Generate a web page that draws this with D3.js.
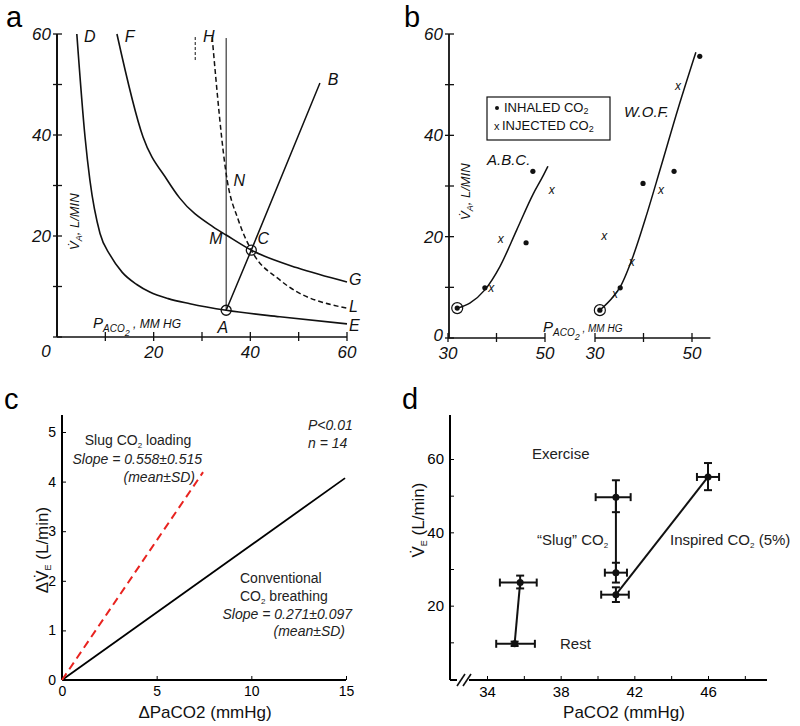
<!DOCTYPE html>
<html>
<head>
<meta charset="utf-8">
<script src="https://cdn.jsdelivr.net/npm/d3@7"></script>
<style>
  body { margin: 0; background: #fff; }
  svg text { font-family: "Liberation Sans", Arial, sans-serif; }
  .hand { font-family: "DejaVu Sans", sans-serif; font-style: italic; }
</style>
</head>
<body>
<svg id="fig" width="800" height="726"></svg>
<script>
// ---------- panel a data (PACO2 mmHg, VA L/min) ----------
const curveDE = [[4.1,60],[5.8,39.6],[6.8,31.1],[8.9,20.5],[11,16.2],[13.5,12.8],[16.5,10.4],[19.2,8.9],[23,7.6],[27.5,6.6],[35,5.3],[46.1,4.0],[60,2.6]];
const curveFG = [[12.4,60],[17.8,39.6],[22.8,31.1],[25.4,27.5],[32.3,21.8],[35,20.2],[40.2,17.2],[49.7,13.7],[60,10.9]];
const curveHL = [[32.1,59.4],[35.2,31.1],[37.5,23.2],[40.2,17.2],[46.1,11.3],[60,5.7]];
const lineAB = [[35,5.3],[40.2,17.2],[54.4,50.3]];
const lineAN = [[35,5.3],[35,59.2]];
const tickH = [[28.6,59.4],[28.6,54.6]];
const circlesA = [[35,5.3],[40.2,17.2]];
const aLetters = [
  {t:"D", x:5.6, y:58.5}, {t:"F", x:14, y:58.5}, {t:"H", x:30.2, y:58.5},
  {t:"B", x:56, y:50}, {t:"N", x:36.5, y:30}, {t:"M", x:31.5, y:18.4},
  {t:"C", x:41.5, y:18.4}, {t:"G", x:60.4, y:10.2}, {t:"L", x:60.4, y:4.9},
  {t:"E", x:60.4, y:1.1}, {t:"A", x:33.2, y:0.8}
];
const aTicksY = [0,10,20,30,40,50,60];
const aLabelsY = [20,40,60];
const aTicksX = [10,20,30,40,50,60];
const aLabelsX = [20,40,60];

// ---------- panel b data ----------
const abcInhaled = [[37.6,9.9],[46.1,18.8],[47.5,32.9]];
const abcInjected = [[38.9,9.9],[40.9,19.6],[51.4,29.3]];
const abcRest = [31.9,5.9];
const abcCurve = [[31.9,5.9],[34.5,6.9],[37.6,9.5],[40.7,14.1],[44.2,21.4],[47.5,28.3],[49.6,32.0],[50.6,33.9]];
const wofInhaled = [[35.2,9.9],[39.9,30.5],[46.3,32.9],[51.6,55.6]];
const wofInjected = [[34.1,8.7],[31.9,20.2],[37.6,15.0],[43.6,29.3],[47.1,49.7]];
const wofRest = [31.0,5.5];
const wofCurve = [[31.0,5.5],[33.7,8.1],[35.2,10.1],[37.8,16.0],[40.7,24.5],[43.5,33.5],[47.2,45.5],[50.8,56.4]];
const bTicksY = [0,10,20,30,40,50,60];
const bLabelsY = [0,20,40,60];
const bTicksX = [30,40,50];

// ---------- panel c data ----------
const slugLine = [[0,0],[7.45,4.19]];
const convLine = [[0,0],[14.95,4.07]];
const cTicksX = [0,5,10,15];
const cTicksY = [0,1,2,3,4,5];

// ---------- panel d data ----------
// [PaCO2, VE, xLow, xHigh, yLow, yHigh]
const restPts = [[35.5,9.6,34.5,36.6,9.0,10.2],[35.8,26.3,34.7,36.7,24.7,28.2]];
const slugPts = [[41.0,29.0,40.4,41.6,26.3,31.7],[41.0,49.6,39.9,41.8,45.5,54.2]];
const inspPts = [[41.0,23.0,40.2,41.7,21.0,25.0],[46.0,55.1,45.4,46.6,51.5,58.9]];
const dTicksX = [34,36,38,40,42,44,46,48];
const dLabelsX = [34,38,42,46];
const dTicksY = [10,20,30,40,50,60];
const dLabelsY = [20,40,60];

const svg = d3.select("#fig");
svg.append("rect").attr("width",800).attr("height",726).attr("fill","#fff");

// panel letters
[["a",6,27],["b",404,27],["c",4,409],["d",402,409]].forEach(p => {
  svg.append("text").attr("x",p[1]).attr("y",p[2]).attr("font-size",29).text(p[0]);
});

function crossTicks(g, pts, horiz) {
  pts.forEach(p => {
    if (horiz) g.append("line").attr("x1",p[0]).attr("x2",p[0]).attr("y1",p[1]-5).attr("y2",p[1]+4);
    else g.append("line").attr("x1",p[0]-4).attr("x2",p[0]+5).attr("y1",p[1]).attr("y2",p[1]);
  });
}

// ================= Panel a =================
{
  const x = d3.scaleLinear().domain([0,60]).range([57,347]);
  const y = d3.scaleLinear().domain([0,60]).range([337,34]);
  const g = svg.append("g").attr("stroke","#111").attr("fill","none");
  g.append("line").attr("x1",x(0)).attr("x2",x(0)).attr("y1",y(0)).attr("y2",y(60)).attr("stroke-width",2);
  g.append("line").attr("x1",x(0)).attr("x2",x(60)).attr("y1",y(0)).attr("y2",y(0)).attr("stroke-width",1.6);
  const tg = g.append("g").attr("stroke-width",1.3);
  crossTicks(tg, aTicksY.map(v => [x(0), y(v)]), false);
  crossTicks(tg, aTicksX.map(v => [x(v), y(0)]), true);
  const line = d3.line().x(d => x(d[0])).y(d => y(d[1])).curve(d3.curveMonotoneX);
  g.append("path").attr("d", line(curveDE)).attr("stroke-width",1.6);
  g.append("path").attr("d", line(curveFG)).attr("stroke-width",1.6);
  g.append("path").attr("d", line(curveHL)).attr("stroke-width",1.5).attr("stroke-dasharray","5,3");
  g.append("path").attr("d", d3.line().x(d => x(d[0])).y(d => y(d[1]))(tickH)).attr("stroke-width",1).attr("stroke-dasharray","3,2");
  g.append("path").attr("d", d3.line().x(d => x(d[0])).y(d => y(d[1]))(lineAB)).attr("stroke-width",1.5);
  g.append("path").attr("d", d3.line().x(d => x(d[0])).y(d => y(d[1]))(lineAN)).attr("stroke-width",1);
  circlesA.forEach(c => g.append("circle").attr("cx",x(c[0])).attr("cy",y(c[1])).attr("r",5).attr("stroke-width",1.3).attr("fill","none"));
  const tt = svg.append("g").attr("class","hand").attr("fill","#111");
  aLabelsY.forEach(v => tt.append("text").attr("x",x(0)-6).attr("y",y(v)+6).attr("text-anchor","end").attr("font-size",17).text(v));
  tt.append("text").attr("x",46).attr("y",357).attr("text-anchor","middle").attr("font-size",17).text("0");
  aLabelsX.forEach(v => tt.append("text").attr("x",x(v)).attr("y",358).attr("text-anchor","middle").attr("font-size",17).text(v));
  aLetters.forEach(l => tt.append("text").attr("x",x(l.x)).attr("y",y(l.y)).attr("font-size",16).text(l.t));
  const yl = tt.append("text").attr("transform","translate(79,250) rotate(-90)").attr("font-size",13);
  yl.append("tspan").text("V̇");
  yl.append("tspan").attr("font-size",9).attr("dy",3).text("A");
  yl.append("tspan").attr("dy",-3).text(",  L/MIN");
  const xl = tt.append("text").attr("x",93).attr("y",328).attr("font-size",15);
  xl.append("tspan").text("P");
  xl.append("tspan").attr("font-size",10).attr("dy",4).text("ACO");
  xl.append("tspan").attr("font-size",9).attr("dy",4).text("2");
  xl.append("tspan").attr("dy",-8).attr("font-size",12).text(" ,  MM HG");
}

// ================= Panel b =================
{
  const y = d3.scaleLinear().domain([0,60]).range([338,34]);
  const x1 = d3.scaleLinear().domain([30,50]).range([448,545]);
  const x2 = d3.scaleLinear().domain([30,50]).range([595,692]);
  const g = svg.append("g").attr("stroke","#111").attr("fill","none");
  g.append("line").attr("x1",449).attr("x2",449).attr("y1",y(0)).attr("y2",y(60)).attr("stroke-width",1.8);
  g.append("line").attr("x1",x1(30)).attr("x2",x1(50)).attr("y1",y(0)).attr("y2",y(0)).attr("stroke-width",1.6);
  g.append("line").attr("x1",x2(30)).attr("x2",x2(53.8)).attr("y1",y(0)).attr("y2",y(0)).attr("stroke-width",1.6);
  const tg = g.append("g").attr("stroke-width",1.3);
  crossTicks(tg, bTicksY.map(v => [449, y(v)]), false);
  crossTicks(tg, bTicksX.map(v => [x1(v), y(0)]), true);
  crossTicks(tg, bTicksX.map(v => [x2(v), y(0)]), true);
  const mk = (xs, data) => d3.line().x(d => xs(d[0])).y(d => y(d[1])).curve(d3.curveMonotoneX)(data);
  g.append("path").attr("d", mk(x1, abcCurve)).attr("stroke-width",1.5);
  g.append("path").attr("d", mk(x2, wofCurve)).attr("stroke-width",1.5);
  const dots = svg.append("g").attr("fill","#111");
  abcInhaled.forEach(d => dots.append("circle").attr("cx",x1(d[0])).attr("cy",y(d[1])).attr("r",2.6));
  wofInhaled.forEach(d => dots.append("circle").attr("cx",x2(d[0])).attr("cy",y(d[1])).attr("r",2.6));
  [[x1,abcRest],[x2,wofRest]].forEach(([xs,d]) => {
    dots.append("circle").attr("cx",xs(d[0])).attr("cy",y(d[1])).attr("r",2.6);
    g.append("circle").attr("cx",xs(d[0])).attr("cy",y(d[1])).attr("r",5.5).attr("stroke-width",1.2);
  });
  const tt = svg.append("g").attr("class","hand").attr("fill","#111");
  abcInjected.forEach(d => tt.append("text").attr("x",x1(d[0])).attr("y",y(d[1])+4).attr("text-anchor","middle").attr("font-size",12).text("x"));
  wofInjected.forEach(d => tt.append("text").attr("x",x2(d[0])).attr("y",y(d[1])+4).attr("text-anchor","middle").attr("font-size",12).text("x"));
  bLabelsY.forEach(v => tt.append("text").attr("x",443).attr("y",y(v) + (v === 0 ? 3 : 6)).attr("text-anchor","end").attr("font-size",17).text(v));
  bTicksX.filter(v => v !== 40).forEach(v => {
    tt.append("text").attr("x",x1(v)).attr("y",359).attr("text-anchor","middle").attr("font-size",17).text(v);
    tt.append("text").attr("x",x2(v)).attr("y",359).attr("text-anchor","middle").attr("font-size",17).text(v);
  });
  tt.append("text").attr("x",487).attr("y",165).attr("font-size",15).text("A.B.C.");
  tt.append("text").attr("x",624).attr("y",117).attr("font-size",15).text("W.O.F.");
  const yl = tt.append("text").attr("transform","translate(470,220) rotate(-90)").attr("font-size",13);
  yl.append("tspan").text("V̇");
  yl.append("tspan").attr("font-size",9).attr("dy",3).text("A");
  yl.append("tspan").attr("dy",-3).text(",  L/MIN");
  const xl = tt.append("text").attr("x",543).attr("y",332).attr("font-size",15);
  xl.append("tspan").text("P");
  xl.append("tspan").attr("font-size",10).attr("dy",4).text("ACO");
  xl.append("tspan").attr("font-size",9).attr("dy",4).text("2");
  xl.append("tspan").attr("dy",-8).attr("font-size",10).text(" , MM HG");
  // legend
  svg.append("rect").attr("x",487).attr("y",97).attr("width",123).attr("height",43).attr("fill","none").attr("stroke","#111").attr("stroke-width",1.2);
  const lg = svg.append("g").attr("fill","#111").attr("font-size",13);
  lg.append("circle").attr("cx",497).attr("cy",108).attr("r",2);
  const l1 = lg.append("text").attr("x",504).attr("y",112);
  l1.append("tspan").text("INHALED    CO");
  l1.append("tspan").attr("font-size",9).attr("dy",2).text("2");
  lg.append("text").attr("x",494).attr("y",130).attr("font-size",11).text("x");
  const l2 = lg.append("text").attr("x",502).attr("y",130);
  l2.append("tspan").text("INJECTED CO");
  l2.append("tspan").attr("font-size",9).attr("dy",2).text("2");
}

// ================= Panel c =================
{
  const x = d3.scaleLinear().domain([0,15]).range([62,346]);
  const y = d3.scaleLinear().domain([0,5]).range([680,432]);
  const g = svg.append("g");
  g.append("g").attr("transform","translate(0,680)")
    .call(d3.axisBottom(x).tickValues(cTicksX).tickSize(-4).tickPadding(6).tickFormat(d3.format("d")))
    .call(a => a.select(".domain").attr("stroke-width",2).attr("d","M62,0H346"))
    .call(a => a.selectAll("text").attr("font-size",14).attr("font-family","Liberation Sans, Arial"));
  g.append("g").attr("transform","translate(62,0)")
    .call(d3.axisLeft(y).tickValues(cTicksY).tickSize(-4).tickPadding(6).tickFormat(d3.format("d")))
    .call(a => a.select(".domain").attr("stroke-width",2).attr("d","M0,680V415"))
    .call(a => a.selectAll("text").attr("font-size",14).attr("font-family","Liberation Sans, Arial"));
  const ln = d3.line().x(d => x(d[0])).y(d => y(d[1]));
  g.append("path").attr("d",ln(convLine)).attr("stroke","#000").attr("stroke-width",1.8).attr("fill","none");
  g.append("path").attr("d",ln(slugLine)).attr("stroke","#e8231f").attr("stroke-width",2).attr("stroke-dasharray","8,5").attr("fill","none");
  const t = g.append("g").attr("fill","#222").attr("font-size",14);
  const s1 = t.append("text").attr("x",138).attr("y",445).attr("text-anchor","middle");
  s1.append("tspan").text("Slug CO");
  s1.append("tspan").attr("font-size",8).attr("dy",3).text("2");
  s1.append("tspan").attr("dy",-3).text(" loading");
  t.append("text").attr("x",202).attr("y",464).attr("text-anchor","end").attr("font-style","italic").text("Slope = 0.558\u00b10.515");
  t.append("text").attr("x",195).attr("y",482).attr("text-anchor","end").attr("font-style","italic").text("(mean\u00b1SD)");
  t.append("text").attr("x",308).attr("y",430).attr("font-style","italic").text("P<0.01");
  t.append("text").attr("x",308).attr("y",448).attr("font-style","italic").text("n = 14");
  t.append("text").attr("x",240).attr("y",583).text("Conventional");
  const s2 = t.append("text").attr("x",240).attr("y",601);
  s2.append("tspan").text("CO");
  s2.append("tspan").attr("font-size",8).attr("dy",3).text("2");
  s2.append("tspan").attr("dy",-3).text(" breathing");
  t.append("text").attr("x",352).attr("y",619).attr("text-anchor","end").attr("font-style","italic").text("Slope = 0.271\u00b10.097");
  t.append("text").attr("x",345).attr("y",636).attr("text-anchor","end").attr("font-style","italic").text("(mean\u00b1SD)");
  const yl = g.append("text").attr("transform","translate(48,550) rotate(-90)").attr("text-anchor","middle").attr("font-size",17).attr("fill","#111");
  yl.append("tspan").text("\u0394V̇");
  yl.append("tspan").attr("font-size",9).attr("dy",3).text("E");
  yl.append("tspan").attr("dy",-3).text(" (L/min)");
  g.append("text").attr("x",205).attr("y",718).attr("text-anchor","middle").attr("font-size",17).attr("fill","#111").text("\u0394PaCO2 (mmHg)");
}

// ================= Panel d =================
{
  const x = d3.scaleLinear().domain([34,46]).range([487,708]);
  const y = d3.scaleLinear().domain([0,60]).range([679,459]);
  const g = svg.append("g");
  g.append("g").attr("transform","translate(0,680)")
    .call(d3.axisBottom(x).tickValues(dTicksX).tickSize(-4).tickPadding(6).tickFormat(d => dLabelsX.includes(d) ? d : ""))
    .call(a => a.select(".domain").attr("stroke-width",2).attr("d","M450,0H767"))
    .call(a => a.selectAll("text").attr("font-size",15).attr("font-family","Liberation Sans, Arial"));
  g.append("g").attr("transform","translate(450,0)")
    .call(d3.axisLeft(y).tickValues(dTicksY).tickSize(-4).tickPadding(6).tickFormat(d => dLabelsY.includes(d) ? d : ""))
    .call(a => a.select(".domain").attr("stroke-width",2).attr("d","M0,680V415"))
    .call(a => a.selectAll("text").attr("font-size",15).attr("font-family","Liberation Sans, Arial"));
  // axis break
  g.append("rect").attr("x",457).attr("y",675).attr("width",12).attr("height",10).attr("fill","#fff");
  [457,463].forEach(b => g.append("line").attr("x1",b).attr("y1",686).attr("x2",b+8).attr("y2",674).attr("stroke","#111").attr("stroke-width",1.6));
  const ln = d3.line().x(d => x(d[0])).y(d => y(d[1]));
  [restPts, slugPts, inspPts].forEach(s => {
    g.append("path").attr("d",ln(s)).attr("stroke","#111").attr("stroke-width",2).attr("fill","none");
    s.forEach(p => {
      const e = g.append("g").attr("stroke","#111").attr("stroke-width",2);
      e.append("line").attr("x1",x(p[2])).attr("x2",x(p[3])).attr("y1",y(p[1])).attr("y2",y(p[1]));
      e.append("line").attr("x1",x(p[0])).attr("x2",x(p[0])).attr("y1",y(p[4])).attr("y2",y(p[5]));
      [p[2],p[3]].forEach(v => e.append("line").attr("x1",x(v)).attr("x2",x(v)).attr("y1",y(p[1])-4).attr("y2",y(p[1])+4));
      [p[4],p[5]].forEach(v => e.append("line").attr("x1",x(p[0])-4).attr("x2",x(p[0])+4).attr("y1",y(v)).attr("y2",y(v)));
      g.append("circle").attr("cx",x(p[0])).attr("cy",y(p[1])).attr("r",3.5).attr("fill","#111");
    });
  });
  const t = g.append("g").attr("fill","#222").attr("font-size",15);
  t.append("text").attr("x",532).attr("y",459).text("Exercise");
  const s1 = t.append("text").attr("x",537).attr("y",545);
  s1.append("tspan").text("\u201cSlug\u201d CO");
  s1.append("tspan").attr("font-size",8).attr("dy",3).text("2");
  const s2 = t.append("text").attr("x",670).attr("y",545);
  s2.append("tspan").text("Inspired CO");
  s2.append("tspan").attr("font-size",8).attr("dy",3).text("2");
  s2.append("tspan").attr("dy",-3).text(" (5%)");
  t.append("text").attr("x",560).attr("y",649).text("Rest");
  const yl = g.append("text").attr("transform","translate(424,520) rotate(-90)").attr("text-anchor","middle").attr("font-size",17).attr("fill","#111");
  yl.append("tspan").text("V̇");
  yl.append("tspan").attr("font-size",9).attr("dy",3).text("E");
  yl.append("tspan").attr("dy",-3).text(" (L/min)");
  g.append("text").attr("x",624).attr("y",718).attr("text-anchor","middle").attr("font-size",17).attr("fill","#111").text("PaCO2 (mmHg)");
}
</script>
</body>
</html>
